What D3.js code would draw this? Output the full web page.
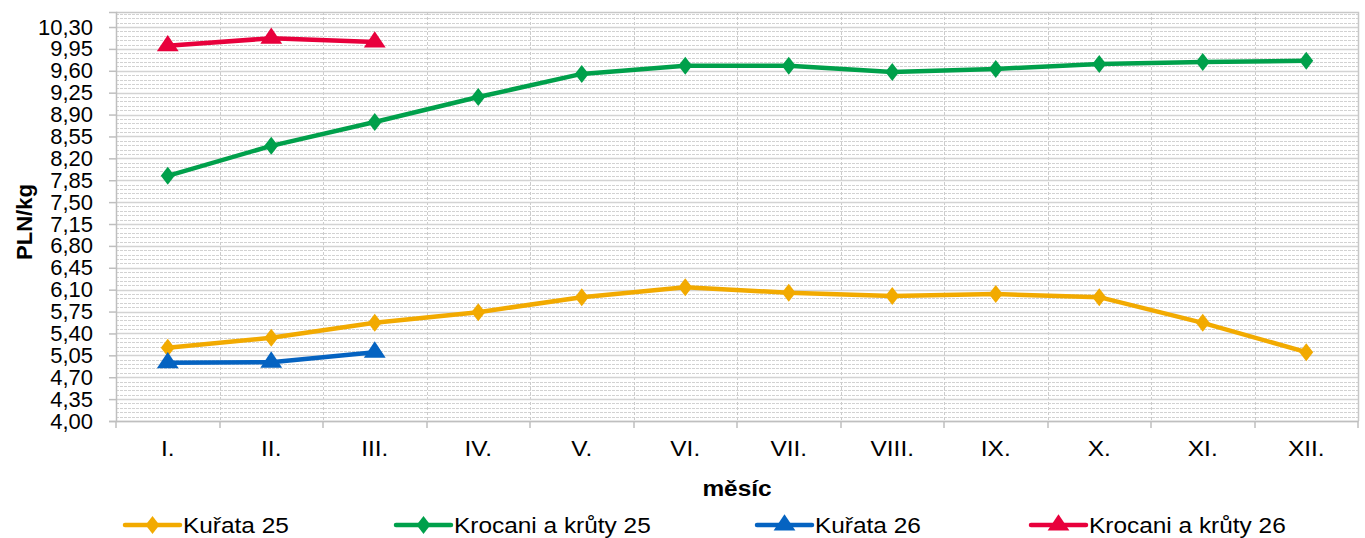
<!doctype html>
<html lang="cs">
<head>
<meta charset="utf-8">
<title>PLN/kg</title>
<script src="https://d3js.org/d3.v7.min.js"></script>
<style>
  body { margin: 0; background: #fff; }
  text { font-family: "Liberation Sans", Arial, sans-serif; fill: #000; }
</style>
</head>
<body>
<div id="chart"></div>
<script>
// data
var months = ["I.", "II.", "III.", "IV.", "V.", "VI.", "VII.", "VIII.", "IX.", "X.", "XI.", "XII."];
var kurata25 = [5.17, 5.33, 5.57, 5.74, 5.98, 6.14, 6.05, 6.00, 6.03, 5.98, 5.57, 5.10];
var krocani25 = [7.92, 8.40, 8.78, 9.18, 9.55, 9.68, 9.68, 9.58, 9.63, 9.71, 9.74, 9.76];
var kurata26 = [4.93, 4.94, 5.10];
var krocani26 = [10.00, 10.12, 10.06];
var seriesNames = ["Kuřata 25", "Krocani a krůty 25", "Kuřata 26", "Krocani a krůty 26"];
var yTicks = [4.00, 4.35, 4.70, 5.05, 5.40, 5.75, 6.10, 6.45, 6.80, 7.15, 7.50, 7.85, 8.20, 8.55, 8.90, 9.25, 9.60, 9.95, 10.30];

var series = [
  {name: seriesNames[0], values: kurata25, color: "#f2aa00", marker: "diamond"},
  {name: seriesNames[1], values: krocani25, color: "#00a04b", marker: "diamond"},
  {name: seriesNames[2], values: kurata26, color: "#0563c1", marker: "triangle"},
  {name: seriesNames[3], values: krocani26, color: "#e8003c", marker: "triangle"}
];

var width = 1365, height = 538;
var plot = {left: 116, right: 1358, top: 12, bottom: 421};
var stretch = "scale(1.11,1)";

var svg = d3.select("#chart").append("svg")
    .attr("width", width)
    .attr("height", height);

var x = d3.scaleBand()
    .domain(months)
    .range([plot.left, plot.right])
    .padding(0);

var y = d3.scaleLinear()
    .domain([4, 10.54])
    .range([plot.bottom, plot.top]);

// minor gridlines
var minor = d3.range(0, 94).map(function(i) { return 4 + i * 0.07; })
    .filter(function(v) { return v <= 10.54; });
svg.append("g").selectAll("line")
    .data(minor)
    .enter().append("line")
    .attr("x1", plot.left).attr("x2", plot.right)
    .attr("y1", function(d) { return Math.round(y(d)) + 0.5; })
    .attr("y2", function(d) { return Math.round(y(d)) + 0.5; })
    .attr("stroke", "#d2d2d2")
    .attr("stroke-dasharray", "3,1");

// vertical gridlines at category boundaries
var bounds = months.map(function(m) { return x(m); }).concat([plot.right]);
svg.append("g").selectAll("line")
    .data(bounds.slice(1, -1))
    .enter().append("line")
    .attr("x1", function(d) { return Math.round(d) + 0.5; })
    .attr("x2", function(d) { return Math.round(d) + 0.5; })
    .attr("y1", plot.top).attr("y2", plot.bottom)
    .attr("stroke", "#cccccc")
    .attr("stroke-dasharray", "3,2");

// major gridlines
svg.append("g").selectAll("line")
    .data(yTicks)
    .enter().append("line")
    .attr("x1", plot.left).attr("x2", plot.right)
    .attr("y1", function(d) { return Math.round(y(d)) + 0.5; })
    .attr("y2", function(d) { return Math.round(y(d)) + 0.5; })
    .attr("stroke", "#d3d3d3")
    .attr("stroke-width", 1.6);

// plot border top / right
svg.append("path")
    .attr("d", "M" + plot.left + "," + (plot.top + 0.5) + "H" + (plot.right + 0.5) + "V" + plot.bottom)
    .attr("fill", "none")
    .attr("stroke", "#c8c8c8")
    .attr("stroke-width", 1.5);

// y axis
var yAxis = svg.append("g")
    .attr("transform", "translate(" + plot.left + ",0)")
    .call(d3.axisLeft(y)
        .tickValues(yTicks)
        .tickSize(7)
        .tickPadding(16)
        .tickFormat(function(d) { return d.toFixed(2).replace(".", ","); }));
yAxis.select(".domain").attr("stroke", "#bfbfbf").attr("stroke-width", 1.5);
yAxis.selectAll(".tick line").attr("stroke", "#bfbfbf").attr("stroke-width", 1.5);
yAxis.selectAll("text")
    .style("font-family", "Liberation Sans, Arial, sans-serif")
    .style("font-size", "22px")
    .attr("fill", "#000");

// x axis
var xAxis = svg.append("g")
    .attr("transform", "translate(0," + plot.bottom + ")")
    .call(d3.axisBottom(x).tickSize(0).tickPadding(19));
xAxis.select(".domain").attr("stroke", "#bfbfbf").attr("stroke-width", 1.5);
xAxis.selectAll("text")
    .style("font-family", "Liberation Sans, Arial, sans-serif")
    .style("font-size", "22px")
    .attr("transform", stretch)
    .attr("fill", "#000");
svg.append("g").selectAll("line")
    .data(bounds)
    .enter().append("line")
    .attr("x1", function(d) { return Math.round(d); })
    .attr("x2", function(d) { return Math.round(d); })
    .attr("y1", plot.bottom).attr("y2", plot.bottom + 7)
    .attr("stroke", "#bfbfbf")
    .attr("stroke-width", 1.5);

// axis titles
svg.append("g")
    .attr("transform", "translate(" + ((plot.left + plot.right) / 2) + ",496) " + stretch)
  .append("text")
    .attr("text-anchor", "middle")
    .style("font-size", "22px")
    .style("font-weight", "bold")
    .text("měsíc");

svg.append("text")
    .attr("transform", "translate(32,222) rotate(-90)")
    .attr("text-anchor", "middle")
    .style("font-size", "22px")
    .style("font-weight", "bold")
    .text("PLN/kg");

// markers
var diamond = d3.symbol().type(d3.symbolDiamond2).size(170);
var triangle = d3.symbol().type(d3.symbolTriangle).size(170);
function markerPath(m) { return m === "diamond" ? diamond() : triangle(); }
function markerScale(m) { return m === "diamond" ? "scale(0.85,1.1)" : "scale(1.1,0.95)"; }

var line = d3.line()
    .x(function(d, i) { return x(months[i]) + x.bandwidth() / 2; })
    .y(function(d) { return y(d); });

series.forEach(function(s) {
  var g = svg.append("g");
  g.append("path")
      .datum(s.values)
      .attr("d", line)
      .attr("fill", "none")
      .attr("stroke", s.color)
      .attr("stroke-width", 4.5)
      .attr("stroke-linejoin", "round");
  g.selectAll("path.mk")
      .data(s.values)
      .enter().append("path")
      .attr("class", "mk")
      .attr("d", markerPath(s.marker))
      .attr("transform", function(d, i) {
        return "translate(" + (x(months[i]) + x.bandwidth() / 2) + "," + y(d) + ") " + markerScale(s.marker);
      })
      .attr("fill", s.color);
});

// legend
var legendX = [125, 396, 757, 1031];
var legend = svg.append("g").attr("transform", "translate(0,525)");
series.forEach(function(s, i) {
  var g = legend.append("g").attr("transform", "translate(" + legendX[i] + ",0)");
  g.append("line")
      .attr("x1", 0).attr("x2", 55)
      .attr("stroke", s.color)
      .attr("stroke-width", 4.5)
      .attr("stroke-linecap", "round");
  g.append("path")
      .attr("d", markerPath(s.marker))
      .attr("transform", "translate(27.5,0) " + markerScale(s.marker))
      .attr("fill", s.color);
  g.append("g")
      .attr("transform", "translate(58,8) " + stretch)
    .append("text")
      .style("font-size", "22px")
      .text(s.name);
});
</script>
</body>
</html>
